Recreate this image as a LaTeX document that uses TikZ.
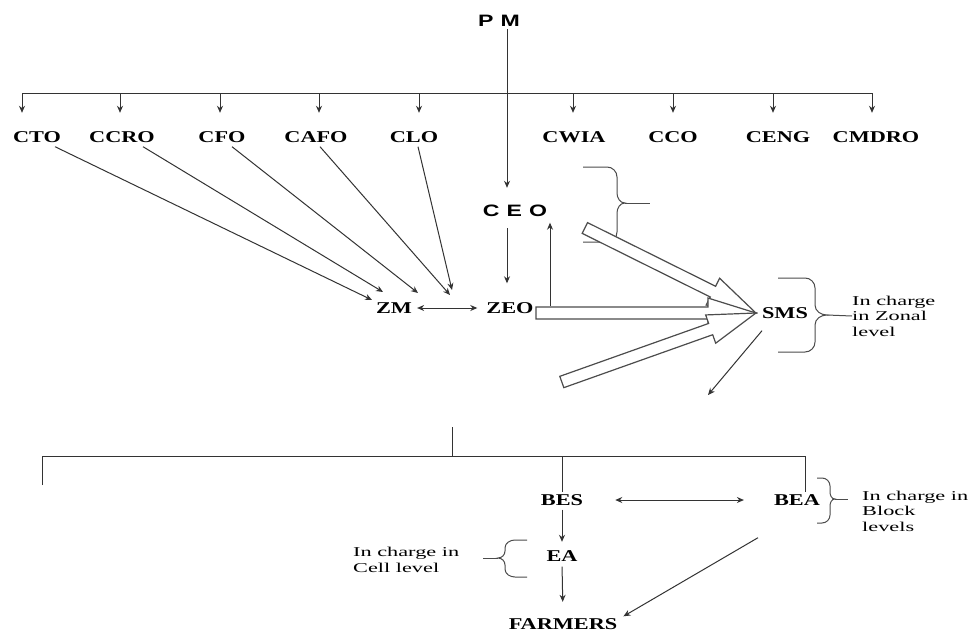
\documentclass[tikz,border=0pt]{standalone}
\usepackage{fontspec}
\setmainfont{Liberation Serif}
\newfontfamily\labfont[FakeStretch=1.35]{Liberation Serif}
\newfontfamily\headfont[FakeStretch=1.4]{Liberation Sans}
\newfontfamily\notefont[FakeStretch=1.65]{Liberation Serif}
\usetikzlibrary{arrows.meta,calc}
\tikzset{
 lab/.style={font=\labfont\bfseries\fontsize{16.5}{18}\selectfont, inner sep=2pt, text height=11pt, text depth=0pt},
 headlab/.style={font=\headfont\bfseries\fontsize{16.5}{18}\selectfont, inner sep=2pt, text height=12pt, text depth=0pt},
 note/.style={font=\notefont\fontsize{13.5}{15.5}\selectfont, align=left, inner sep=0pt, anchor=west},
 ln/.style={draw=black!80, line width=1pt},
 arr/.style={ln, -{Stealth[length=7pt,width=6pt]}},
 darr/.style={ln, {Stealth[length=7pt,width=6pt]}-{Stealth[length=7pt,width=6pt]}},
 fat/.style={draw=black!70, line width=1.2pt, fill=white, line join=miter},
 bracestyle/.style={draw=black!70, line width=1pt},
}
\newcommand{\fatarr}[3]{%
 \begin{scope}[shift={(#1)},rotate=#2]
  \draw[fat] (0pt,0pt) -- (48pt,15pt) -- (48pt,6pt) -- (#3pt,6pt) -- (#3pt,-6pt) -- (48pt,-6pt) -- (48pt,-15pt) -- cycle;
 \end{scope}}
\begin{document}
\begin{tikzpicture}[x=1pt,y=-1pt]
\fill[white] (0,0) rectangle (971,634);
\useasboundingbox (0,0) rectangle (971,634);

% top
\node[headlab] (PM) at (499,21) {P\kern7pt M};
\node[headlab] (CEO) at (515,210) {C\kern7pt E\kern7pt O};

\node[lab] (CTO) at (37,137) {CTO};
\node[lab] (CCRO) at (122,137) {CCRO};
\node[lab] (CFO) at (222,137) {CFO};
\node[lab] (CAFO) at (316,137) {CAFO};
\node[lab] (CLO) at (414,137) {CLO};
\node[lab] (CWIA) at (574,137) {CWIA};
\node[lab] (CCO) at (673,137) {CCO};
\node[lab] (CENG) at (778,137) {CENG};
\node[lab] (CMDRO) at (876,137) {CMDRO};

\node[lab] (ZM) at (394,308) {ZM};
\node[lab] (ZEO) at (510,308) {ZEO};
\node[lab] (SMS) at (785,313) {SMS};

\node[lab] (BES) at (562,500) {BES};
\node[lab] (BEA) at (797,500) {BEA};
\node[lab] (EA) at (562,556) {EA};
\node[lab] (FARMERS) at (563,624) {FARMERS};

\node[note] (zonal) at (852,316) {In charge\\in Zonal\\level};
\node[note] (block) at (862,511) {In charge in\\Block\\levels};
\node[note] (cell) at (353,560) {In charge in\\Cell level};

% bus under PM
\coordinate (d1) at (22,93);
\coordinate (d2) at (120,93);
\coordinate (d3) at (220,93);
\coordinate (d4) at (319,93);
\coordinate (d5) at (419,93);
\coordinate (d6) at (573,93);
\coordinate (d7) at (673,93);
\coordinate (d8) at (773,93);
\coordinate (d9) at (872,93);
\draw[ln] (d1) -- (d9);
\foreach \d/\n in {d1/CTO,d2/CCRO,d3/CFO,d4/CAFO,d5/CLO,d6/CWIA,d7/CCO,d8/CENG,d9/CMDRO}
  \draw[arr, shorten >=16.5pt] (\d) -- (\d |- \n.north);

\draw[arr, shorten >=14pt] (PM.south -| 507,0) -- (CEO.north -| 507,0);
\draw[arr, shorten <=10pt, shorten >=17pt] (CEO.south -| 507,0) -- (ZEO.north -| 507,0);

% chiefs to ZM
\draw[arr] ($(CTO.south)+(18,2)$) -- ($(ZM)+(-22,-8)$);
\draw[arr] ($(CCRO.south)+(21,2)$) -- ($(ZM)+(-11,-16)$);
\draw[arr] ($(CFO.south)+(10,2)$) -- ($(ZM)+(24,-15)$);
\draw[arr] ($(CAFO.south)+(4,2)$) -- ($(ZM)+(56,-13)$);
\draw[arr] ($(CLO.south)+(4,2)$) -- ($(ZM)+(58,-18)$);
\draw[darr, shorten <=3pt, shorten >=7pt] (ZM.east) -- (ZEO.west);

% braces
\draw[bracestyle] (583,167) -- (607,167) to[out=0,in=90] (617,177) -- (617,193) to[out=-90,in=180] (625,203) to[out=180,in=90] (617,213) -- (617,232) to[out=-90,in=0] (607,242) -- (583,242);
\draw[bracestyle] (625,203) -- (650,203);
\draw[bracestyle] (778,278) -- (805,278) to[out=0,in=90] (815,288) -- (815,305) to[out=-90,in=180] (827,315) to[out=180,in=90] (815,325) -- (815,342) to[out=-90,in=0] (805,352) -- (778,352);
\draw[bracestyle] (827,315) -- (zonal.west);
\draw[bracestyle] (817,478) -- (822,478) to[out=0,in=90] (830,486) -- (830,492) to[out=-90,in=180] (835,499) to[out=180,in=90] (830,506) -- (830,515) to[out=-90,in=0] (822,523) -- (817,523);
\draw[bracestyle] (835,499) -- (848,499);
\draw[bracestyle] (527,540) -- (515,540) to[out=180,in=90] (505,548) -- (505,551) to[out=-90,in=0] (498,558) to[out=0,in=90] (505,565) -- (505,569) to[out=-90,in=180] (515,577) -- (527,577);
\draw[bracestyle] (498,558) -- (483,558);

% fat arrows into SMS
\coordinate (smstip) at ($(SMS.west)+(-4,0)$);
\fatarr{smstip}{153.57}{191}
\fatarr{smstip}{180}{220}
\fatarr{smstip}{199.57}{206}

\coordinate (upstart) at (550,306);
\draw[arr, shorten >=4.5pt] (upstart) -- (upstart |- CEO.south);

\coordinate (smsout) at (708,395);
\draw[arr] ($(SMS.south)+(-23,10)$) -- (smsout);

% lower bus
\coordinate (bl) at (42,456);
\coordinate (br) at (805,456);
\coordinate (blend) at (42,485);
\coordinate (stub) at (452,427);
\draw[ln] (blend) -- (bl) -- (br) -- (br |- BEA.north);
\draw[ln] (stub) -- (stub |- bl);
\draw[ln] (BES.north |- bl) -- (BES.north);

\draw[darr, shorten <=30pt, shorten >=28pt] (BES.east) -- (BEA.west);
\draw[arr, shorten <=2pt, shorten >=6.5pt] (BES.south) -- (EA.north);
\draw[arr, shorten <=3pt, shorten >=14.5pt] (EA.south) -- (FARMERS.north);
\draw[arr] ($(BEA.south)+(-39,30)$) -- ($(FARMERS.north east)+(4,0)$);
\end{tikzpicture}
\end{document}
